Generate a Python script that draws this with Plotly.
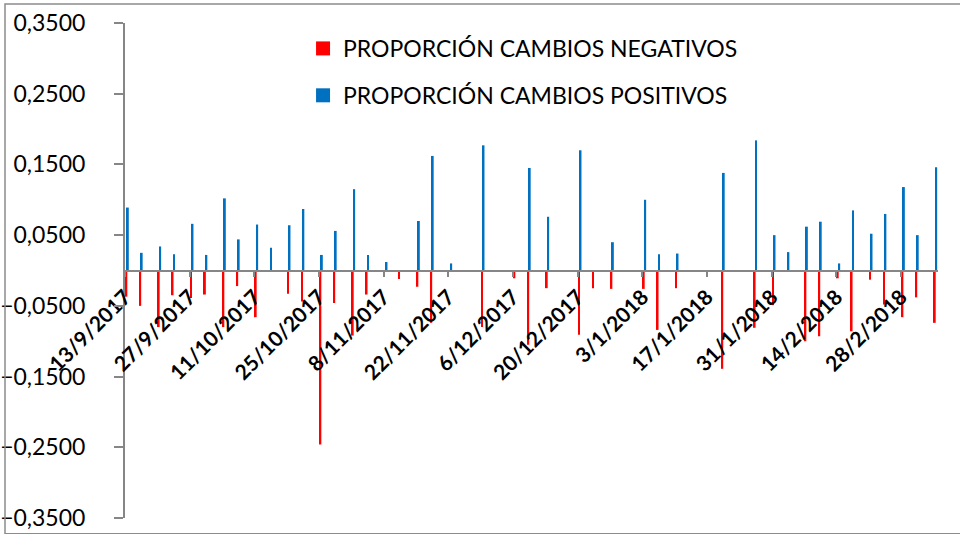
import plotly.graph_objects as go

# Wednesday / Saturday observations, Sep 2017 - Mar 2018
fechas = ['2017-09-13', '2017-09-16', '2017-09-20', '2017-09-23', '2017-09-27', '2017-09-30',
          '2017-10-04', '2017-10-07', '2017-10-11', '2017-10-14', '2017-10-18', '2017-10-21',
          '2017-10-25', '2017-10-28', '2017-11-01', '2017-11-04', '2017-11-08', '2017-11-11',
          '2017-11-15', '2017-11-18', '2017-11-22', '2017-11-29', '2017-12-06', '2017-12-09',
          '2017-12-13', '2017-12-20', '2017-12-23', '2017-12-27', '2018-01-03', '2018-01-06',
          '2018-01-10', '2018-01-20', '2018-01-27', '2018-01-31', '2018-02-03', '2018-02-07',
          '2018-02-10', '2018-02-14', '2018-02-17', '2018-02-21', '2018-02-24', '2018-02-28',
          '2018-03-03', '2018-03-07']

negativos = [-0.037, -0.050, -0.080, -0.035, -0.039, -0.034,
             -0.080, -0.022, -0.066, None, -0.033, -0.044,
             -0.246, -0.046, -0.092, -0.034, None, -0.012,
             -0.023, -0.074, None, -0.080, -0.011, -0.105,
             -0.025, -0.091, -0.025, -0.026, -0.026, -0.084,
             -0.025, -0.139, -0.081, -0.049, None, -0.100,
             -0.093, -0.011, -0.086, -0.013, -0.048, -0.066,
             -0.038, -0.074]

positivos = [0.089, 0.025, 0.034, 0.023, 0.066, 0.022,
             0.102, 0.044, 0.065, 0.032, 0.064, 0.087,
             0.022, 0.056, 0.115, 0.022, 0.012, None,
             0.070, 0.162, 0.010, 0.177, None, 0.145,
             0.076, 0.170, None, 0.040, 0.100, 0.023,
             0.024, 0.138, 0.184, 0.050, 0.026, 0.062,
             0.069, 0.010, 0.085, 0.052, 0.080, 0.118,
             0.050, 0.146]

series = [('PROPORCIÓN CAMBIOS NEGATIVOS', negativos, '#FF0000', 0.1),
          ('PROPORCIÓN CAMBIOS POSITIVOS', positivos, '#0070C0', 0.42)]

DAY = 86400000
FONT = 'Lato'

fig = go.Figure()
for name, vals, color, off in series:
    fig.add_trace(go.Bar(x=fechas, y=vals, name=name, showlegend=False,
                         marker=dict(color=color, line_width=0),
                         width=0.4 * DAY, offset=off * DAY))
    # square legend key like the Excel original
    fig.add_trace(go.Scatter(x=[None], y=[None], mode='markers', name=name,
                             legendgroup=name,
                             marker=dict(symbol='square', size=14, color=color)))

fig.update_layout(
    width=960, height=534,
    margin=dict(l=125, r=22, t=23, b=16),
    paper_bgcolor='white', plot_bgcolor='white',
    barmode='overlay', separators=',.',
    font=dict(family=FONT, size=21, color='#000000'),
    showlegend=True,
    legend=dict(x=0.219, y=0.992, xanchor='left', yanchor='top', bgcolor='rgba(0,0,0,0)',
                font=dict(family=FONT, size=23, color='#000000'), tracegroupgap=14,
                itemwidth=30),
)

fig.update_xaxes(
    type='date', range=['2017-09-13', '2018-03-08'],
    anchor='free', position=0.5, automargin=False,
    tick0='2017-09-13', dtick=14 * DAY, tickformat='%-d/%-m/%Y',
    tickangle=-45, tickfont=dict(family=FONT, size=21, color='#000000', weight='bold'),
    showline=True, linecolor='#868686', linewidth=2,
    ticks='outside', ticklen=5, tickcolor='#868686', tickwidth=2,
    showgrid=False, zeroline=False,
)

fig.update_yaxes(
    range=[-0.35, 0.35], tick0=0.05, dtick=0.1, tickformat='.4f', automargin=False,
    tickfont=dict(family=FONT, size=23, color='#000000'),
    showline=True, linecolor='#868686', linewidth=2,
    ticks='outside', ticklen=9, tickcolor='#868686', tickwidth=2,
    ticklabelstandoff=24,
    showgrid=False, zeroline=False,
)

# outer chart frame (right side runs off the picture in the original)
fig.add_shape(type='rect', xref='paper', yref='paper',
              x0=-0.1476, x1=1.08, y0=-0.032, y1=1.0384,
              line=dict(color='#8c8c8c', width=1.5), fillcolor='rgba(0,0,0,0)')

# drop the default page margin so the chart sits at the window's corner
fig.write_html('out.html', config={'displayModeBar': False},
               post_script="document.body.style.margin='0';")
